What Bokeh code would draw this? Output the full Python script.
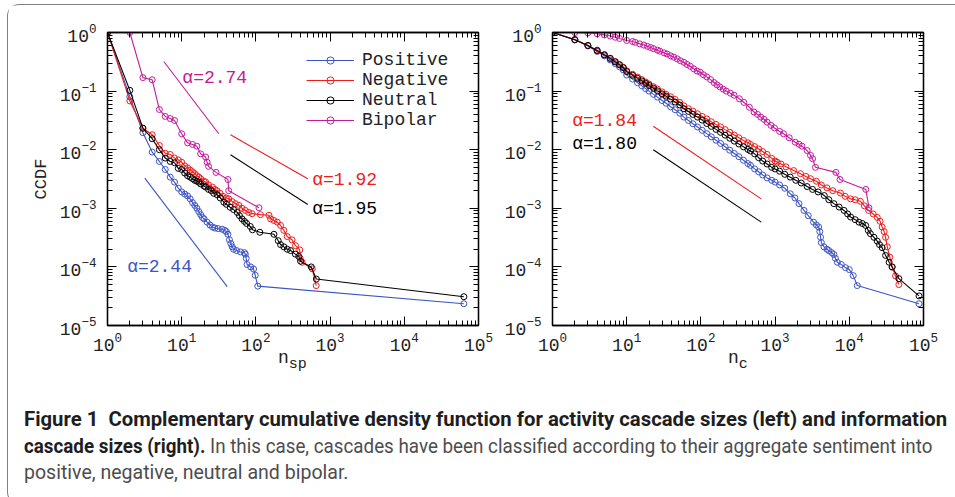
from bokeh.plotting import figure
from bokeh.models import (LogAxis, FixedTicker, Legend, LegendItem, Label, Div,
                          CustomJSTickFormatter)
from bokeh.layouts import row, column
from bokeh.embed import file_html
from bokeh.resources import INLINE

# ---------------- data ----------------
# left panel: activity cascade sizes n_sp
pos_sp_n = [1, 2, 3, 4, 5, 6, 7, 8, 9, 10, 11, 12, 13, 14, 15, 16, 17, 18, 19, 20, 22, 24, 26, 28, 31,
            35, 38, 40, 42, 44, 46, 48, 50, 55, 62, 70, 72, 74, 76, 85, 93, 98, 106, 63500]
pos_sp_c = [1.0, 0.08, 0.0195, 0.0091, 0.0063, 0.0046, 0.0034, 0.0028, 0.0022, 0.0019, 0.00175, 0.00163,
            0.00145, 0.00125, 0.00112, 0.001, 0.00088, 0.00078, 0.0007, 0.00066, 0.00058, 0.00052, 0.00048,
            0.00046, 0.00045, 0.00044, 0.00042, 0.0004, 0.00036, 0.00029, 0.00025, 0.00022, 0.0002, 0.00019,
            0.00018, 0.000175, 0.000165, 0.00014, 0.00011, 0.0001, 0.000092, 0.000072, 0.000047, 0.0000235]

neg_sp_n = [1, 2, 3, 4, 5, 6, 7, 8, 9, 10, 11, 12, 13, 14, 15, 16, 17, 18, 20, 21, 23, 26, 28, 30, 33,
            36, 40, 43, 48, 53, 59, 65, 72, 80, 89, 115, 150, 158, 175, 194, 215, 238, 264, 307, 342,
            390, 395, 420, 575, 650]
neg_sp_c = [1.0, 0.068, 0.0233, 0.018, 0.0118, 0.0087, 0.0083, 0.0072, 0.0067, 0.0061, 0.0053, 0.0049,
            0.0045, 0.0042, 0.0039, 0.0036, 0.0034, 0.0032, 0.0029, 0.0028, 0.0025, 0.0023, 0.0021, 0.002,
            0.0018, 0.0016, 0.0015, 0.00145, 0.0013, 0.0012, 0.00112, 0.001, 0.00092, 0.00085, 0.00081,
            0.00078, 0.00076, 0.00066, 0.00062, 0.00058, 0.00051, 0.00042, 0.00033, 0.00029, 0.00023,
            0.000195, 0.00014, 0.00012, 0.000093, 0.000048]

neu_sp_n = [1, 2, 3, 4, 5, 6, 7, 8, 9, 10, 11, 12, 13, 14, 15, 16, 17, 18, 20, 21, 23, 25, 27, 30, 33,
            37, 40, 45, 50, 56, 60, 65, 70, 75, 84, 90, 113, 175, 200, 215, 238, 265, 293, 340, 378, 400,
            556, 653, 63500]
neu_sp_c = [1.0, 0.103, 0.0233, 0.0154, 0.01, 0.0072, 0.0063, 0.006, 0.0048, 0.0046, 0.004, 0.0036,
            0.0034, 0.0032, 0.003, 0.0029, 0.0028, 0.0026, 0.0024, 0.0023, 0.0021, 0.002, 0.0018, 0.0017,
            0.0015, 0.00127, 0.00117, 0.00104, 0.00095, 0.00085, 0.00075, 0.00066, 0.0006, 0.00055,
            0.00049, 0.00043, 0.00039, 0.00036, 0.00028, 0.00024, 0.00022, 0.0002, 0.00019, 0.000165,
            0.000151, 0.000125, 0.0001, 0.000062, 0.000031]

bip_sp_n = [2, 3, 4, 5, 6, 7, 8, 10, 12, 14, 16, 18, 21, 22, 23, 29, 42, 43, 110]
bip_sp_c = [1.0, 0.17, 0.156, 0.0485, 0.037, 0.034, 0.0315, 0.0187, 0.0131, 0.0123, 0.0115, 0.0085,
            0.0075, 0.0061, 0.0052, 0.0041, 0.0031, 0.002, 0.00102]

# right panel: information cascade sizes n_c
pos_c_n = [1, 2, 3, 4, 5, 6, 7, 8, 9, 10, 12, 14, 16, 18, 20, 23, 26, 30, 34, 39, 45, 52, 59, 68, 78,
           90, 104, 120, 138, 160, 184, 212, 245, 282, 325, 375, 430, 466, 530, 600, 680, 780, 900,
           1000, 1150, 1350, 1600, 1850, 2100, 2450, 2800, 3300, 3600, 3860, 4000, 4100, 4200, 4550,
           5000, 5300, 5800, 6200, 6500, 6900, 7800, 8900, 10000, 11300, 12800, 87000]
pos_c_c = [1.0, 0.75, 0.59, 0.475, 0.4, 0.34, 0.295, 0.26, 0.23, 0.188, 0.16, 0.139, 0.123, 0.11, 0.1,
           0.088, 0.079, 0.069, 0.062, 0.054, 0.048, 0.042, 0.036, 0.0315, 0.0277, 0.0244, 0.0214,
           0.0188, 0.0166, 0.0145, 0.0128, 0.0112, 0.0098, 0.0086, 0.0076, 0.0066, 0.0058, 0.0054,
           0.0047, 0.0042, 0.0037, 0.0033, 0.003, 0.0028, 0.0025, 0.0022, 0.00177, 0.0015, 0.0012,
           0.00092, 0.00075, 0.00058, 0.00052, 0.00048, 0.0004, 0.00032, 0.00026, 0.00022, 0.0002,
           0.00019, 0.000175, 0.000163, 0.00014, 0.00012, 0.00011, 0.000097, 0.00009, 0.000071,
           0.000048, 0.0000235]

neg_c_n = [1, 2, 3, 4, 5, 6, 7, 8, 9, 10, 12, 14, 16, 18, 20, 23, 26, 30, 34, 39, 45, 52, 59, 68, 78,
           90, 104, 120, 138, 160, 184, 212, 245, 282, 325, 375, 430, 466, 530, 600, 680, 780, 900,
           1000, 1070, 1200, 1400, 1780, 2200, 2600, 3000, 3600, 4200, 5000, 6000, 7600, 8800, 10400,
           12000, 14100, 16000, 18200, 21000, 23800, 26000, 27700, 29500, 30800, 32500, 35200, 37800,
           42000, 46600]
neg_c_c = [1.0, 0.76, 0.6, 0.5, 0.42, 0.365, 0.32, 0.285, 0.255, 0.222, 0.194, 0.173, 0.157, 0.143,
           0.132, 0.119, 0.108, 0.097, 0.088, 0.08, 0.072, 0.064, 0.056, 0.05, 0.0455, 0.041, 0.037,
           0.0335, 0.03, 0.027, 0.0245, 0.022, 0.0198, 0.0178, 0.016, 0.0144, 0.0131, 0.0123, 0.0113,
           0.0103, 0.0093, 0.0083, 0.0071, 0.0064, 0.0061, 0.0057, 0.0051, 0.0044, 0.0039, 0.0035,
           0.0032, 0.0029, 0.0025, 0.00223, 0.002, 0.00182, 0.0016, 0.00145, 0.0014, 0.00132, 0.0011,
           0.00092, 0.0008, 0.0007, 0.0006, 0.00048, 0.0004, 0.00032, 0.00022, 0.000147, 0.000099,
           0.00007, 0.00005]

neu_c_n = [1, 2, 3, 4, 5, 6, 7, 8, 9, 10, 12, 14, 16, 18, 20, 23, 26, 30, 34, 39, 45, 52, 59, 68, 78,
           90, 104, 120, 138, 160, 184, 212, 245, 282, 325, 375, 430, 466, 530, 600, 680, 780, 900,
           1000, 1150, 1350, 1600, 1900, 2250, 2700, 3200, 3800, 4600, 5300, 6200, 7300, 8500, 9500,
           10400, 12000, 13500, 15000, 16600, 18000, 19200, 21500, 23800, 25500, 27700, 30800, 34400,
           37800, 46600, 87000]
neu_c_c = [1.0, 0.75, 0.6, 0.49, 0.415, 0.36, 0.315, 0.28, 0.25, 0.215, 0.186, 0.165, 0.149, 0.136,
           0.125, 0.112, 0.101, 0.09, 0.082, 0.073, 0.065, 0.058, 0.05, 0.045, 0.04, 0.036, 0.032,
           0.028, 0.025, 0.0222, 0.0198, 0.0177, 0.0157, 0.014, 0.0125, 0.0112, 0.0101, 0.0095,
           0.0085, 0.0073, 0.0064, 0.0057, 0.005, 0.0047, 0.0043, 0.0038, 0.0034, 0.003, 0.0027,
           0.00235, 0.0021, 0.0019, 0.00165, 0.0014, 0.0012, 0.00105, 0.00092, 0.0008, 0.00071,
           0.00064, 0.00058, 0.00055, 0.00051, 0.00042, 0.00037, 0.00032, 0.000275, 0.00024,
           0.000213, 0.000157, 0.00012, 0.0001, 0.000063, 0.000032]

bip_c_n = [2, 3, 4, 5, 6, 7, 8, 10, 12, 13, 15, 17, 19, 21, 23, 26, 28, 32, 35, 39, 43, 48, 53, 59,
           65, 72, 80, 89, 98, 108, 120, 135, 150, 165, 180, 200, 220, 250, 280, 330, 380, 450, 520,
           580, 640, 710, 780, 880, 980, 1150, 1300, 1550, 1870, 2100, 2300, 2700, 3000, 3200, 3500,
           6600, 7500, 16700, 18400]
bip_c_c = [1.0, 0.985, 0.95, 0.91, 0.87, 0.83, 0.79, 0.73, 0.7, 0.68, 0.64, 0.61, 0.58, 0.555, 0.53,
           0.5, 0.48, 0.45, 0.43, 0.4, 0.38, 0.355, 0.33, 0.31, 0.285, 0.265, 0.24, 0.22, 0.21,
           0.19, 0.175, 0.157, 0.14, 0.128, 0.118, 0.108, 0.1, 0.092, 0.085, 0.074, 0.064, 0.053,
           0.044, 0.04, 0.036, 0.033, 0.0295, 0.026, 0.0235, 0.0205, 0.0187, 0.016, 0.0134, 0.0124,
           0.0115, 0.0097, 0.008, 0.007, 0.005, 0.0041, 0.0031, 0.0021, 0.00102]

# power-law guide segments (endpoints) and their labels
fit_left = {
    "bip": ([5.74, 31.6], [0.32, 0.0187], "α=2.74", (10.2, 0.17)),
    "neg": ([45.5, 500], [0.018, 0.00319], "α=1.92", (574, 0.00306)),
    "neu": ([45.5, 500], [0.0082, 0.00116], "α=1.95", (574, 0.000966)),
    "pos": ([3.18, 41], [0.00327, 0.000046], "α=2.44", (1.84, 0.000099)),
}
fit_right = {
    "neg": ([22.8, 650], [0.0252, 0.00145], "α=1.84", (1.84, 0.0303)),
    "neu": ([22.8, 650], [0.01, 0.00058], "α=1.80", (1.84, 0.0123)),
}

series_names = ["Positive", "Negative", "Neutral", "Bipolar"]
x_major = [1e0, 1e1, 1e2, 1e3, 1e4, 1e5]
y_major = [1e-5, 1e-4, 1e-3, 1e-2, 1e-1, 1e0]

# ---------------- styling ----------------
MONO = "Liberation Mono"
COL = {"pos": "#3d54c4", "neg": "#ee1c1c", "neu": "#000000", "bip": "#c41a9c"}
TXT = "#222222"

x_minor = [m * 10.0 ** k for k in range(0, 5) for m in range(2, 10)]
y_minor = [m * 10.0 ** k for k in range(-5, 0) for m in range(2, 10)]


def style_axis(ax, major, minor, standoff, labels=True):
    ax.ticker = FixedTicker(ticks=major, minor_ticks=minor)
    ax.major_tick_in = 9
    ax.major_tick_out = 0
    ax.minor_tick_in = 5
    ax.minor_tick_out = 0
    ax.axis_line_color = "black"
    ax.axis_line_width = 1.3
    ax.major_tick_line_color = "black"
    ax.minor_tick_line_color = "black"
    ax.major_tick_line_width = 1
    ax.minor_tick_line_width = 1
    ax.major_label_text_font = MONO
    ax.major_label_text_font_size = "18px"
    ax.major_label_text_color = TXT
    ax.major_label_standoff = standoff
    if not labels:
        ax.formatter = CustomJSTickFormatter(code="return ''")
        ax.major_label_standoff = 0


def make_fig(bl, br):
    p = figure(x_axis_type="log", y_axis_type="log", x_range=(1, 1e5), y_range=(1e-5, 1),
               frame_width=371, frame_height=293, min_border_left=bl, min_border_right=br,
               min_border_top=27, min_border_bottom=30, output_backend="svg",
               toolbar_location=None, background_fill_color="white",
               border_fill_color="white")
    p.xgrid.visible = False
    p.ygrid.visible = False
    p.outline_line_color = "black"
    p.outline_line_width = 1.3
    style_axis(p.xaxis[0], x_major, x_minor, 6)
    style_axis(p.yaxis[0], y_major, y_minor, 11)
    top = LogAxis()
    style_axis(top, x_major, x_minor, 0, labels=False)
    p.add_layout(top, "above")
    right = LogAxis()
    style_axis(right, y_major, y_minor, 0, labels=False)
    p.add_layout(right, "right")
    return p


def draw(p, n, c, key):
    ln = p.line(n, c, line_color=COL[key], line_width=1.1)
    sc = p.scatter(n, c, marker="circle", size=6, line_color=COL[key], fill_color=None, line_width=1)
    return [ln, sc]


def draw_fits(p, fits):
    for key, (fx, fy, txt, (tx, ty)) in fits.items():
        p.line(fx, fy, line_color=COL[key], line_width=1.1)
        p.add_layout(Label(x=tx, y=ty, text=txt, text_color=COL[key], text_font=MONO,
                           text_font_size="18px", text_baseline="middle", text_align="left"))


# ---------------- left panel ----------------
p1 = make_fig(99, 20)
r_pos = draw(p1, pos_sp_n, pos_sp_c, "pos")
r_neg = draw(p1, neg_sp_n, neg_sp_c, "neg")
r_neu = draw(p1, neu_sp_n, neu_sp_c, "neu")
r_bip = draw(p1, bip_sp_n, bip_sp_c, "bip")
draw_fits(p1, fit_left)
p1.yaxis[0].axis_label = "CCDF"
p1.yaxis[0].axis_label_text_font = MONO
p1.yaxis[0].axis_label_text_font_size = "17px"
p1.yaxis[0].axis_label_text_font_style = "normal"
p1.yaxis[0].axis_label_text_color = TXT
p1.yaxis[0].axis_label_standoff = 6

legend = Legend(items=[LegendItem(label=nm, renderers=r) for nm, r in
                       zip(series_names, [r_pos, r_neg, r_neu, r_bip])],
                location=(199, 195), orientation="vertical")
legend.label_text_font = MONO
legend.label_text_font_size = "18px"
legend.label_text_color = TXT
legend.glyph_width = 48
legend.glyph_height = 18
legend.label_height = 18
legend.spacing = -2
legend.padding = 0
legend.margin = 0
legend.label_standoff = 8
legend.border_line_color = None
legend.background_fill_alpha = 0
p1.add_layout(legend)

# ---------------- right panel ----------------
p2 = make_fig(54, 24)
draw(p2, pos_c_n, pos_c_c, "pos")
draw(p2, neg_c_n, neg_c_c, "neg")
draw(p2, neu_c_n, neu_c_c, "neu")
draw(p2, bip_c_n, bip_c_c, "bip")
draw_fits(p2, fit_right)

# ---------------- x-axis titles with subscripts ----------------
lab = ("position:absolute;top:-11px;font-family:'Liberation Mono',monospace;font-size:18px;"
       "line-height:18px;color:#222222;white-space:nowrap;")
xlab_html = (
    '<div style="position:relative;width:938px;height:22px;">'
    f'<span style="{lab}left:265px;">n<sub style="font-size:15px;">sp</sub></span>'
    f'<span style="{lab}left:715px;">n<sub style="font-size:15px;">c</sub></span>'
    '</div>'
)
xlabels = Div(text=xlab_html, width=938, height=22)

# ---------------- caption ----------------
def cap_span(scale):
    return (f"display:inline-block;white-space:nowrap;transform:scaleX({scale});"
            "transform-origin:0 50%;")

cap_html = (
    '<div style="font-family:Roboto,sans-serif;font-size:21px;line-height:26.5px;'
    'padding:14px 0 0 11px;color:#4d4d4d;white-space:nowrap;">'
    f'<span style="{cap_span(0.966)}"><b style="color:#1e1e1e">Figure 1&nbsp; Complementary cumulative '
    'density function for activity cascade sizes (left) and information</b></span><br>'
    f'<span style="{cap_span(0.895)}"><b style="color:#1e1e1e">cascade sizes (right).</b> In this case, '
    'cascades have been classified according to their aggregate sentiment into</span><br>'
    f'<span style="{cap_span(0.93)}">positive, negative, neutral and bipolar.</span>'
    '</div>'
)
caption = Div(text=cap_html, width=946, height=106)

layout = column(row(p1, p2), xlabels, caption,
                styles={"margin-left": "7px", "margin-top": "4px",
                        "border-left": "1.5px solid #808080", "border-top": "1.5px solid #808080",
                        "border-bottom": "1.5px solid #808080", "border-top-left-radius": "12px",
                        "border-bottom-left-radius": "12px"})

open("out.html", "w").write(file_html(layout, INLINE))
